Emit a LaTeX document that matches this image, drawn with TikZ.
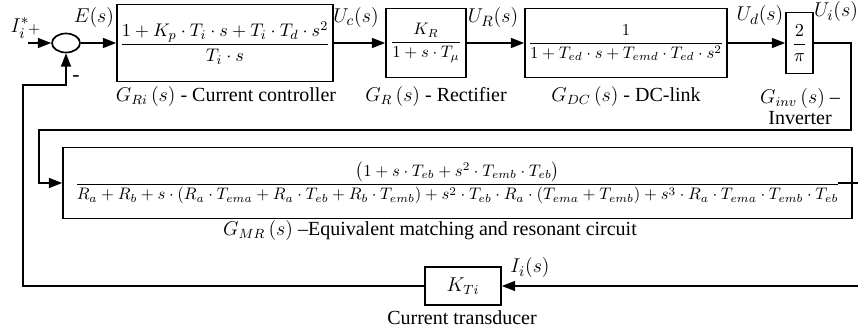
\documentclass[tikz,border=0pt]{standalone}
\usepackage{amsmath}
\usepackage{fontspec}
\setmainfont{Liberation Serif}
\usetikzlibrary{arrows.meta,shapes.geometric}
\newcommand{\Gctrl}{\dfrac{1+K_p\cdot T_i\cdot s+T_i\cdot T_d\cdot s^2}{T_i\cdot s}}
\newcommand{\Grect}{\dfrac{K_R}{1+s\cdot T_\mu}}
\newcommand{\Gdc}{\dfrac{1}{1+T_{ed}\cdot s+T_{emd}\cdot T_{ed}\cdot s^2}}
\newcommand{\Gmr}{\dfrac{\left(1+s\cdot T_{eb}+s^2\cdot T_{emb}\cdot T_{eb}\right)}%
  {R_a+R_b+s\cdot\left(R_a\cdot T_{ema}+R_a\cdot T_{eb}+R_b\cdot T_{emb}\right)+s^2\cdot T_{eb}\cdot R_a\cdot\left(T_{ema}+T_{emb}\right)+s^3\cdot R_a\cdot T_{ema}\cdot T_{emb}\cdot T_{eb}}}
\begin{document}
\begin{tikzpicture}[x=0.6pt,y=-0.6pt,>={Triangle[length=8pt,width=6pt]},
  block/.style={draw,line width=1pt,inner sep=0pt},
  sig/.style={line width=1pt},
  captext/.style={font=\fontsize{12}{12.6}\selectfont},
  lbl/.style={font=\fontsize{13}{15}\selectfont}]
  \useasboundingbox (0,0) rectangle (858,334);
  % forward path
  \node[draw,line width=1pt,ellipse,minimum width=16.8pt,minimum height=11.4pt,inner sep=0pt] (sum) at (66,43) {};
  \node[block,minimum width=129.6pt,minimum height=46.2pt,font=\fontsize{11}{13}\selectfont] (ctrl) at (225,43) {$\Gctrl$};
  \node[block,minimum width=48pt,minimum height=41.4pt] (rect) at (426,43) {$\Grect$};
  \node[block,minimum width=121.2pt,minimum height=41.4pt] (dclink) at (626,43) {$\Gdc$};
  \node[block,minimum width=16.2pt,minimum height=36.6pt,font=\fontsize{11}{13}\selectfont] (inv) at (799.5,43) {$\dfrac{2}{\pi}$};
  \node[block,minimum width=473.4pt,minimum height=42.6pt] (mr) at (457.5,183) {$\Gmr$};
  \node[block,minimum width=45.6pt,minimum height=22.8pt,font=\fontsize{12}{14}\selectfont] (kti) at (463,286) {$K_{Ti}$};
  % captions
  \node[captext] (ctrlcap) at (226,97) {$G_{Ri}\,(s)$ - Current controller};
  \node[captext] (rectcap) at (436,97) {$G_R\,(s)$ - Rectifier};
  \node[captext] (dccap) at (626,97) {$G_{DC}\,(s)$ - DC-link};
  \node[captext,align=center] (invcap) at (800,107) {$G_{inv}\,(s)$ --\\Inverter};
  \node[captext] (mrcap) at (430,231) {$G_{MR}\,(s)$ --Equivalent matching and resonant circuit};
  \node[captext] (kticap) at (462,318) {Current transducer};
  % signals
  \node[lbl] (Iref) at (20,28) {$I_i^*$};
  \node[font=\small] (plus) at (34,30) {$+$};
  \node[lbl] (minus) at (76,79) {-};
  \node[lbl] (Elbl) at (94,18) {$E(s)$};
  \node[lbl] (Uclbl) at (356,18) {$U_c(s)$};
  \node[lbl] (URlbl) at (493,18) {$U_R(s)$};
  \node[lbl] (Udlbl) at (760,16) {$U_d(s)$};
  \node[lbl] (Uilbl) at (836,12) {$U_i(s)$};
  \node[lbl] (Iilbl) at (530,268) {$I_i(s)$};
  \coordinate (ref) at (28,43);
  \coordinate (c1) at (851,130);
  \coordinate (c2) at (39,130);
  \coordinate (mrout) at (838,183);
  \coordinate (outR) at (858,183);
  \coordinate (inR) at (858,286);
  \coordinate (fbA) at (23,85);
  \draw[sig,->] (ref) -- (sum);
  \draw[sig,->] (sum) -- (ctrl);
  \draw[sig,->] (ctrl) -- (rect);
  \draw[sig,->] (rect) -- (dclink);
  \draw[sig,->] (dclink) -- (inv);
  \draw[sig,->] (inv.east) -| (c1) -- (c2) |- (mr.west);
  \draw[sig] (mrout) -- (outR);
  \draw[sig,->] (inR) -- (kti.east);
  \draw[sig,->] (kti.west) -| (fbA) -| (sum.south);
\end{tikzpicture}
\end{document}
